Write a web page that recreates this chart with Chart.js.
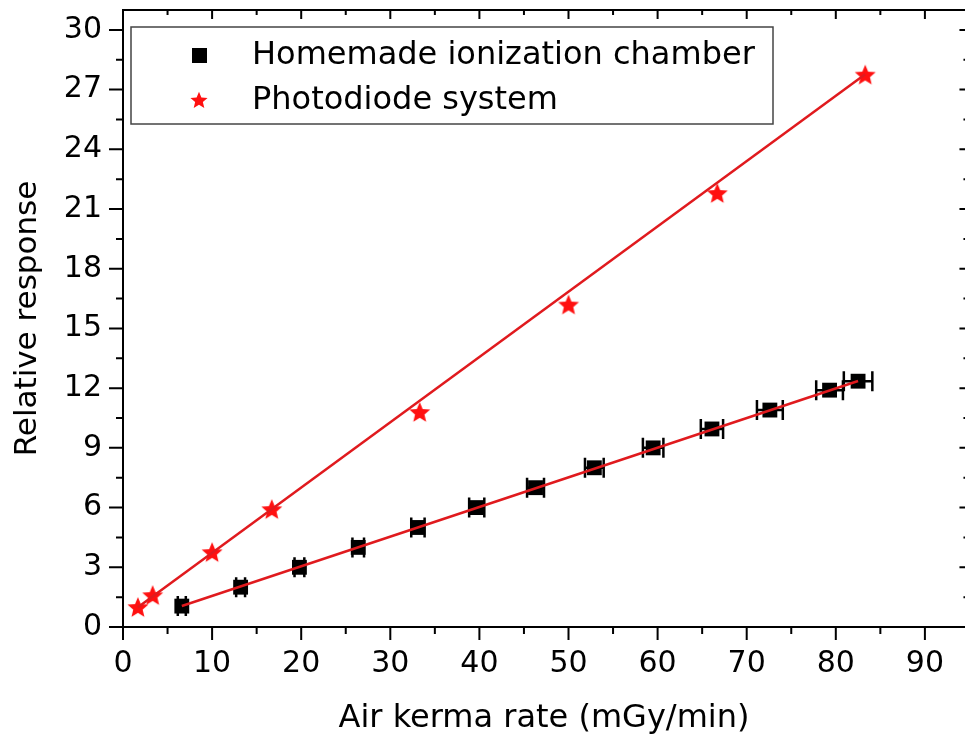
<!DOCTYPE html>
<html>
<head>
<meta charset="utf-8">
<script src="https://cdn.jsdelivr.net/npm/chart.js@4.4.1/dist/chart.umd.min.js"></script>
<style>
  html, body { margin: 0; padding: 0; overflow: hidden; background: #fff; }
</style>
</head>
<body>
<canvas id="kerma" width="965" height="734"></canvas>
<script>
// homemade ionization chamber
var chamberX = [6.6, 13.2, 19.8, 26.4, 33.1, 39.7, 46.3, 52.9, 59.5, 66.1, 72.6, 79.3, 82.5];
var chamberY = [1.05, 2.0, 3.0, 4.0, 5.0, 6.0, 7.0, 8.0, 9.0, 9.95, 10.9, 11.9, 12.35];
var chamberXErr = [0.45, 0.5, 0.55, 0.65, 0.75, 0.85, 0.95, 1.05, 1.15, 1.25, 1.45, 1.5, 1.6];
// photodiode system
var diodeX = [1.67, 3.33, 10, 16.7, 33.3, 50, 66.7, 83.3];
var diodeY = [1.0, 1.6, 3.76, 5.92, 10.8, 16.2, 21.8, 27.75];
// linear fits: [intercept, slope]
var chamberFit = [0.07, 0.149];
var diodeFit = [0.45, 0.328];

var xTicks = [0, 10, 20, 30, 40, 50, 60, 70, 80, 90];
var yTicks = [0, 3, 6, 9, 12, 15, 18, 21, 24, 27, 30];
var xFrameEnd = 95;   // right frame of the plot sits just past the window edge

var FONT = "'DejaVu Sans', 'Liberation Sans', Arial, sans-serif";
var RED = '#e01a1e';

function toPoints(xs, ys) {
  return xs.map(function (x, i) { return {x: x, y: ys[i]}; });
}
function fitLine(xs, fit) {
  var a = xs[0], b = xs[xs.length - 1];
  return [{x: a, y: fit[0] + fit[1] * a}, {x: b, y: fit[0] + fit[1] * b}];
}

function makeStar(r) {
  var c = document.createElement('canvas');
  var s = Math.ceil(r * 2 + 2);
  c.width = s; c.height = s;
  var g = c.getContext('2d');
  g.fillStyle = '#ff1010';
  g.beginPath();
  for (var i = 0; i < 10; i++) {
    var rad = i % 2 === 0 ? r : r * 0.45;
    var ang = -Math.PI / 2 + i * Math.PI / 5;
    g.lineTo(s / 2 + rad * Math.cos(ang), s / 2 + rad * Math.sin(ang) + r * 0.08);
  }
  g.closePath();
  g.fill();
  return c;
}
var starBig = makeStar(11);
var starSmall = makeStar(9);

// horizontal error bars on the chamber points
var errorBars = {
  id: 'errorBars',
  beforeDatasetsDraw: function (chart) {
    var ctx = chart.ctx, xs = chart.scales.x, ys = chart.scales.y;
    ctx.save();
    ctx.strokeStyle = '#000';
    ctx.lineWidth = 2.5;
    chamberX.forEach(function (x, i) {
      var y = ys.getPixelForValue(chamberY[i]);
      var l = xs.getPixelForValue(x - chamberXErr[i]);
      var r = xs.getPixelForValue(x + chamberXErr[i]);
      ctx.beginPath();
      ctx.moveTo(l, y); ctx.lineTo(r, y);
      ctx.moveTo(l, y - 10); ctx.lineTo(l, y + 10);
      ctx.moveTo(r, y - 10); ctx.lineTo(r, y + 10);
      ctx.stroke();
    });
    ctx.restore();
  }
};

// box frame, ticks on all four sides, legend inside the plot
var frame = {
  id: 'frame',
  afterDraw: function (chart) {
    var ctx = chart.ctx, a = chart.chartArea, xs = chart.scales.x, ys = chart.scales.y;
    var right = xs.getPixelForValue(xFrameEnd);
    ctx.save();
    ctx.strokeStyle = '#000';
    ctx.lineWidth = 2;
    ctx.strokeRect(a.left, a.top, right - a.left, a.bottom - a.top);
    ctx.beginPath();
    xTicks.forEach(function (v) {
      [[v, 13, 9], [v + 5, 7, 5]].forEach(function (t) {
        var px = xs.getPixelForValue(t[0]);
        if (px > right - 1) return;
        ctx.moveTo(px, a.bottom); ctx.lineTo(px, a.bottom + t[1]);
        ctx.moveTo(px, a.top); ctx.lineTo(px, a.top + t[2]);
      });
    });
    yTicks.forEach(function (v) {
      [[v, 14, 10], [v + 1.5, 7, 6]].forEach(function (t) {
        var py = ys.getPixelForValue(t[0]);
        if (py < a.top - 1) return;
        ctx.moveTo(a.left, py); ctx.lineTo(a.left - t[1], py);
        ctx.moveTo(right, py); ctx.lineTo(right - t[2], py);
      });
    });
    ctx.stroke();

    // legend
    var lx = a.left + 8, ly = a.top + 17;
    ctx.fillStyle = '#fff';
    ctx.fillRect(lx, ly, 642, 97);
    ctx.strokeStyle = '#444';
    ctx.lineWidth = 1.5;
    ctx.strokeRect(lx, ly, 642, 97);
    ctx.fillStyle = '#000';
    ctx.fillRect(lx + 61, ly + 21, 15, 15);
    ctx.drawImage(starSmall, lx + 68 - starSmall.width / 2, ly + 73 - starSmall.height / 2);
    ctx.font = '32px ' + FONT;
    ctx.textBaseline = 'middle';
    ctx.textAlign = 'left';
    ctx.fillText(chart.data.datasets[2].label, lx + 121, ly + 29);
    ctx.fillText(chart.data.datasets[3].label, lx + 121, ly + 74);
    ctx.restore();
  }
};

new Chart(document.getElementById('kerma'), {
  type: 'scatter',
  data: {
    datasets: [{
      type: 'line',
      label: 'chamber fit',
      data: fitLine(chamberX, chamberFit),
      borderColor: RED,
      borderWidth: 2.5,
      pointRadius: 0,
      order: 0
    }, {
      type: 'line',
      label: 'diode fit',
      data: fitLine(diodeX, diodeFit),
      borderColor: RED,
      borderWidth: 2.5,
      pointRadius: 0,
      order: 0
    }, {
      label: 'Homemade ionization chamber',
      data: toPoints(chamberX, chamberY),
      pointStyle: 'rect',
      pointRadius: 10.5,
      backgroundColor: '#000',
      borderWidth: 0,
      order: 1
    }, {
      label: 'Photodiode system',
      data: toPoints(diodeX, diodeY),
      pointStyle: starBig,
      pointRadius: 11,
      backgroundColor: RED,
      order: 1
    }]
  },
  options: {
    responsive: false,
    animation: false,
    layout: {autoPadding: false, padding: {left: 0, top: 10, right: 0, bottom: 0}},
    plugins: {legend: {display: false}, tooltip: {enabled: false}},
    scales: {
      x: {
        type: 'linear',
        min: 0,
        max: 94.5,
        afterBuildTicks: function (s) { s.ticks = xTicks.map(function (v) { return {value: v}; }); },
        afterFit: function (s) { s.height = 107; s.paddingLeft = 0; s.paddingRight = 0; },
        grid: {display: false, drawTicks: false},
        border: {display: false},
        ticks: {padding: 19, color: '#000', font: {family: FONT, size: 30}, maxRotation: 0, autoSkip: false},
        title: {display: true, text: 'Air kerma rate (mGy/min)', color: '#000', font: {family: FONT, size: 32}, padding: {top: 0, bottom: -4}}
      },
      y: {
        type: 'linear',
        min: 0,
        max: 31,
        afterBuildTicks: function (s) { s.ticks = yTicks.map(function (v) { return {value: v}; }); },
        afterFit: function (s) { s.width = 123; s.paddingTop = 0; s.paddingBottom = 0; },
        grid: {display: false, drawTicks: false},
        border: {display: false},
        ticks: {padding: 21, color: '#000', font: {family: FONT, size: 30}, autoSkip: false},
        title: {display: true, text: 'Relative response', color: '#000', font: {family: FONT, size: 31}, padding: {top: 9, bottom: 0}}
      }
    }
  },
  plugins: [errorBars, frame]
});
</script>
</body>
</html>
